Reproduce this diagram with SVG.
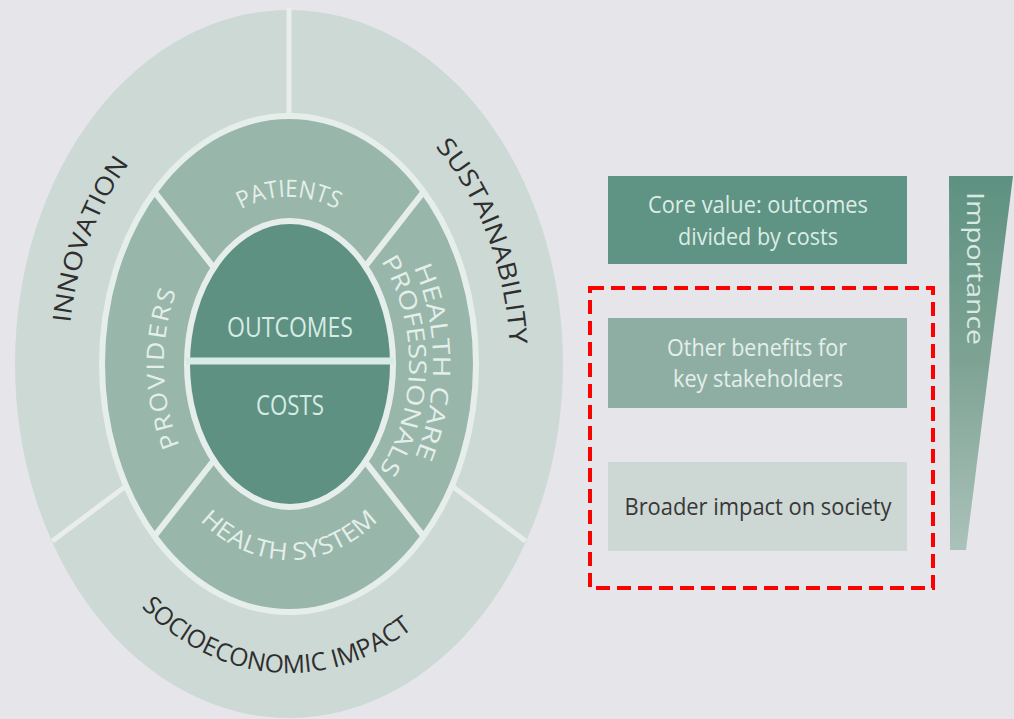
<svg xmlns="http://www.w3.org/2000/svg" width="1014" height="719" viewBox="0 0 1014 719">
<style>
.bg{fill:#e6e6ea}
.outer{fill:#cdd9d5}
.mid{fill:#99b6ab;stroke:#e6eeeb;stroke-width:6}
.inner{fill:#5e9181;stroke:#e6eeeb;stroke-width:6}
.div{stroke:#e6eeeb;stroke-width:6;fill:none}
.odiv{stroke:#e9eeec;stroke-width:5;fill:none}
.dark{font-family:"Open Sans","Liberation Sans",sans-serif;fill:#2e2e2e;font-size:25px}
.light{font-family:"Open Sans","Liberation Sans",sans-serif;fill:#e4efea;font-size:24px}
.core{font-family:"Open Sans","Liberation Sans",sans-serif;fill:#d6ece4;font-size:27px}
.box{font-family:"Open Sans","Liberation Sans",sans-serif;font-size:24px}
</style>
<defs>
<path id="p-innov" d="M 97.6 509 A 221 290 0 0 1 289 74"/>
<path id="p-sust" d="M 289 74 A 221 290 0 0 1 480.4 509"/>
<path id="p-socio" d="M 64.4 469.7 A 239 309 0 0 0 513.6 469.7"/>
<path id="p-pat" d="M 171.5 306.9 A 125 167 0 0 1 406.5 306.9"/>
<path id="p-prov" d="M 246.2 521 A 125 167 0 0 1 246.2 207"/>
<path id="p-hc" d="M 338.6 183.1 A 145 193 0 0 1 338.6 544.9"/>
<path id="p-prof" d="M 330 213.6 A 120 160 0 0 1 330 514.4"/>
<path id="p-hs" d="M 149.9 431 A 148 196 0 0 0 428.1 431"/>
<linearGradient id="imp" x1="0" y1="0" x2="0" y2="1">
<stop offset="0" stop-color="#5e9181"/>
<stop offset="0.5" stop-color="#7ea394"/>
<stop offset="1" stop-color="#abc2ba"/>
</linearGradient>
</defs>
<rect class="bg" x="0" y="0" width="1014" height="719"/>

<g id="outer-ring">
<ellipse class="outer" cx="289" cy="364" rx="274" ry="354"/>
<line class="odiv" x1="289" y1="8" x2="289" y2="120"/>
<line class="odiv" x1="126" y1="486" x2="52.5" y2="541"/>
<line class="odiv" x1="452" y1="486" x2="525.5" y2="541"/>
</g>
<g id="innovation"><text class="dark" text-anchor="middle"><textPath href="#p-innov" startOffset="50%" textLength="172" lengthAdjust="spacingAndGlyphs">INNOVATION</textPath></text></g>
<g id="sustainability"><text class="dark" text-anchor="middle"><textPath href="#p-sust" startOffset="50%" textLength="215" lengthAdjust="spacingAndGlyphs">SUSTAINABILITY</textPath></text></g>
<g id="socioeconomic-impact"><text class="dark" font-size="26" text-anchor="middle"><textPath href="#p-socio" startOffset="47.5%" textLength="300" lengthAdjust="spacingAndGlyphs">SOCIOECONOMIC IMPACT</textPath></text></g>

<g id="stakeholder-ring">
<ellipse class="mid" cx="289" cy="364" rx="187" ry="248"/>
<line class="div" x1="289" y1="364" x2="154.5" y2="191.8"/>
<line class="div" x1="289" y1="364" x2="423.5" y2="191.8"/>
<line class="div" x1="289" y1="364" x2="154.5" y2="536.2"/>
<line class="div" x1="289" y1="364" x2="423.5" y2="536.2"/>
</g>
<g id="patients"><text class="light" font-size="25" text-anchor="middle"><textPath href="#p-pat" startOffset="50%" textLength="100" lengthAdjust="spacingAndGlyphs">PATIENTS</textPath></text></g>
<g id="providers"><text class="light" letter-spacing="2" text-anchor="middle"><textPath href="#p-prov" startOffset="49%" textLength="160" lengthAdjust="spacingAndGlyphs">PROVIDERS</textPath></text></g>
<g id="health-care-professionals">
<text class="light" font-size="23" text-anchor="middle"><textPath href="#p-hc" startOffset="49.5%" textLength="195" lengthAdjust="spacingAndGlyphs">HEALTH CARE</textPath></text>
<text class="light" font-size="23" text-anchor="middle"><textPath href="#p-prof" startOffset="50.5%" textLength="220" lengthAdjust="spacingAndGlyphs">PROFESSIONALS</textPath></text>
</g>
<g id="health-system"><text class="light" font-size="25" text-anchor="middle"><textPath href="#p-hs" startOffset="50%" textLength="200" lengthAdjust="spacingAndGlyphs">HEALTH SYSTEM</textPath></text></g>

<g id="core">
<ellipse class="inner" cx="290" cy="364" rx="103" ry="143"/>
<line x1="186" y1="361" x2="394" y2="361" stroke="#d9ebe5" stroke-width="7"/>
</g>
<g id="outcomes"><text class="core" x="290" y="337" text-anchor="middle" textLength="126" lengthAdjust="spacingAndGlyphs">OUTCOMES</text></g>
<g id="costs"><text class="core" x="290" y="415" text-anchor="middle" textLength="68" lengthAdjust="spacingAndGlyphs">COSTS</text></g>

<g id="box-core-value">
<rect x="608" y="176" width="299" height="88" fill="#5f9383"/>
<text class="box" fill="#dcece6" x="758" y="213" text-anchor="middle" textLength="220" lengthAdjust="spacingAndGlyphs">Core value: outcomes</text>
<text class="box" fill="#dcece6" x="758" y="245" text-anchor="middle" textLength="160" lengthAdjust="spacingAndGlyphs">divided by costs</text>
</g>
<g id="box-other-benefits">
<rect x="608" y="318" width="299" height="90" fill="#8faea3"/>
<text class="box" fill="#e4efeb" font-size="22" x="757" y="356" text-anchor="middle" textLength="180" lengthAdjust="spacingAndGlyphs">Other benefits for</text>
<text class="box" fill="#e4efeb" font-size="22" x="758" y="387" text-anchor="middle" textLength="170" lengthAdjust="spacingAndGlyphs">key stakeholders</text>
</g>
<g id="box-broader-impact">
<rect x="608" y="462" width="299" height="89" fill="#cdd7d4"/>
<text class="box" fill="#383838" x="758" y="515" text-anchor="middle" textLength="267" lengthAdjust="spacingAndGlyphs">Broader impact on society</text>
</g>
<g id="highlight">
<rect x="590" y="288" width="343" height="300" fill="none" stroke="#ff0000" stroke-width="4" stroke-dasharray="14 7"/>
</g>
<g id="importance">
<polygon points="949,176 1013,176 966,550 950,550" fill="url(#imp)"/>
<text class="box" fill="#dbe9e3" font-size="21" transform="translate(967,192) rotate(90)" textLength="153" lengthAdjust="spacingAndGlyphs">Importance</text>
</g>
</svg>
